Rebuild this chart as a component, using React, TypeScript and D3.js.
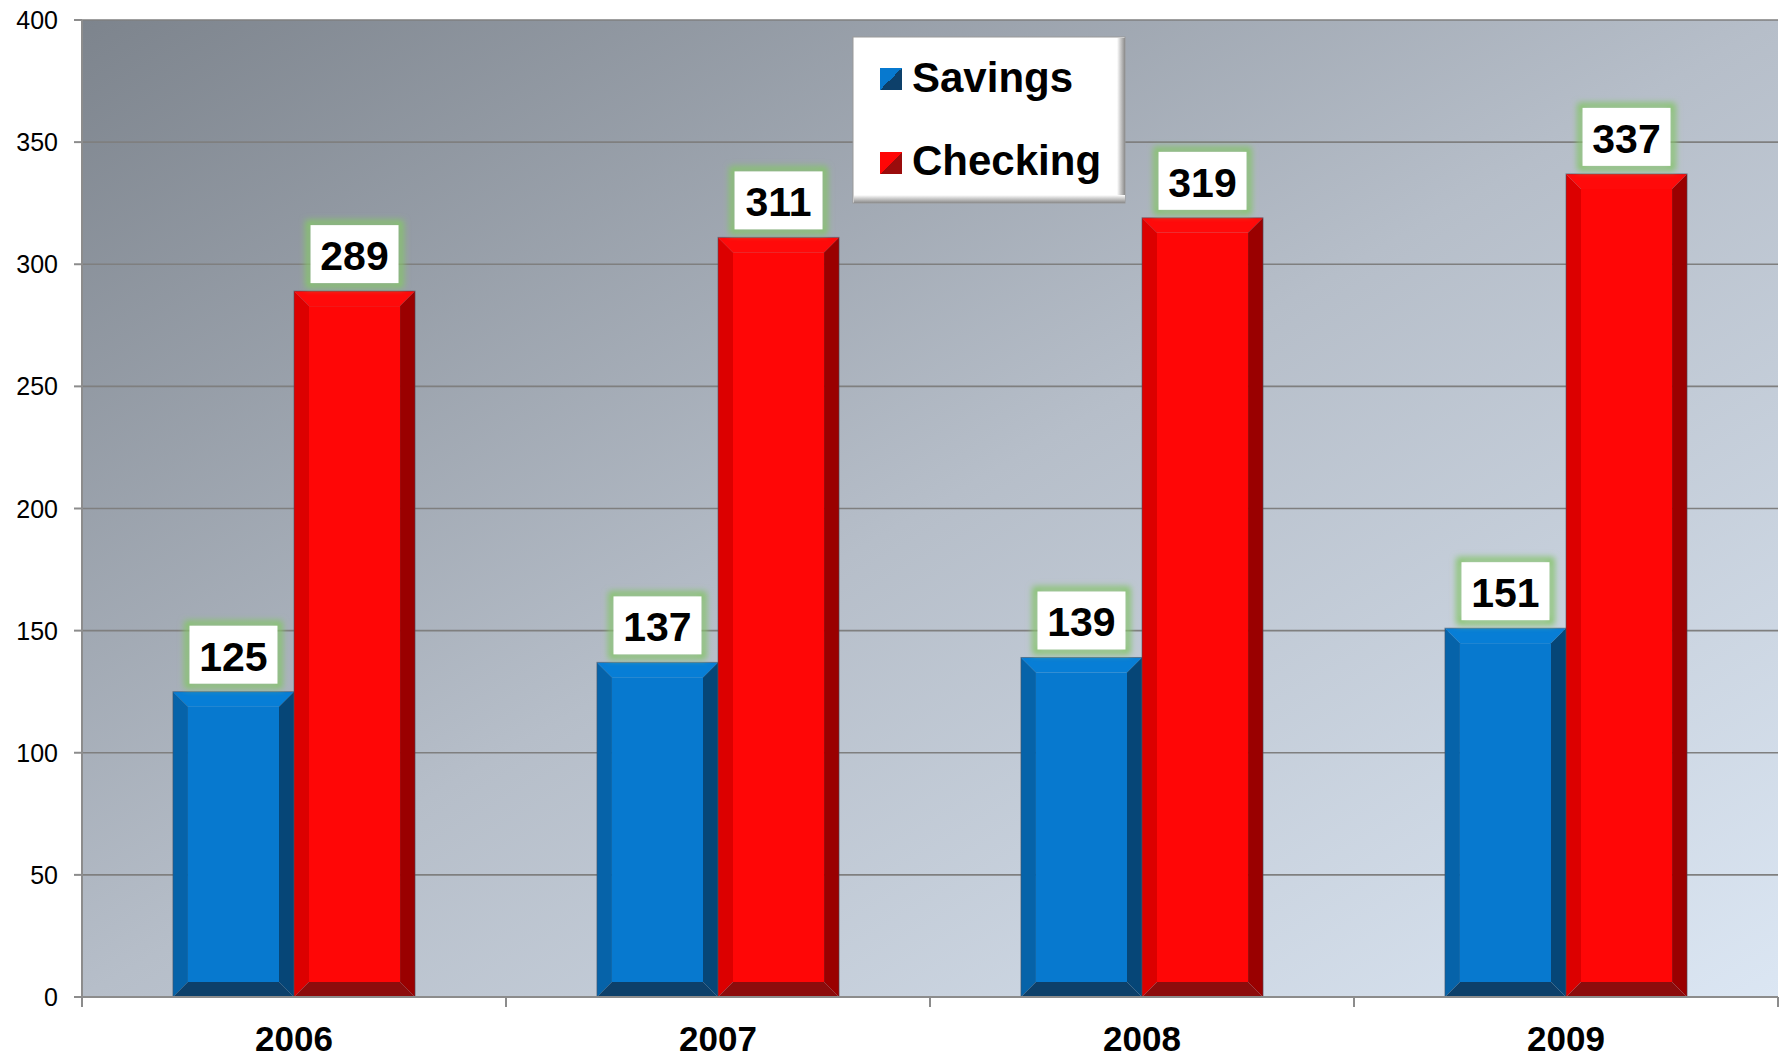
import React from "react";
import * as d3 from "d3";

const categories = ["2006", "2007", "2008", "2009"];
const seriesNames = ["Savings", "Checking"];
const savings = [125, 137, 139, 151];
const checking = [289, 311, 319, 337];
const yTicks = [0, 50, 100, 150, 200, 250, 300, 350, 400];

const W = 1787;
const H = 1060;
const left = 82;
const right = 1778;
const top = 20;
const bottom = 997;
const FONT = "'Liberation Sans', Arial, Helvetica, sans-serif";

const palettes = [
  { face: "#0779cf", topC: "#077ed6", leftC: "#0663a9", rightC: "#064677", bottomC: "#0d406a" },
  { face: "#ff0606", topC: "#ff0a0a", leftC: "#dc0000", rightC: "#9a0000", bottomC: "#8c0c0c" },
];

function BevelBar({ x0, x1, y0, y1, p }: any) {
  const b = Math.min(15, (x1 - x0) / 2, (y1 - y0) / 2);
  const pts = (a: number[][]) => a.map((q) => q.join(",")).join(" ");
  return (
    <g>
      <rect x={x0 + b} y={y0 + b} width={x1 - x0 - 2 * b} height={Math.max(0, y1 - y0 - 2 * b)} fill={p.face} />
      <polygon points={pts([[x0, y0], [x1, y0], [x1 - b, y0 + b], [x0 + b, y0 + b]])} fill={p.topC} />
      <polygon points={pts([[x0, y0], [x0 + b, y0 + b], [x0 + b, y1 - b], [x0, y1]])} fill={p.leftC} />
      <polygon points={pts([[x1, y0], [x1, y1], [x1 - b, y1 - b], [x1 - b, y0 + b]])} fill={p.rightC} />
      <polygon points={pts([[x0, y1], [x1, y1], [x1 - b, y1 - b], [x0 + b, y1 - b]])} fill={p.bottomC} />
      <rect x={x0} y={y0} width={x1 - x0} height={y1 - y0} fill="none" stroke="rgba(70,80,95,0.55)" strokeWidth={1} />
    </g>
  );
}

export default function App() {
  const x = d3.scaleBand<string>().domain(categories).range([left, right]).paddingInner(0.429).paddingOuter(0.2145);
  const xs = d3.scaleBand<string>().domain(seriesNames).range([0, x.bandwidth()]).padding(0);
  const y = d3.scaleLinear().domain([0, 400]).range([bottom, top]);
  const step = x.step();
  const gap = (step - x.bandwidth()) / 2;
  const boundaries = categories.map((c) => (x(c) as number) - gap).concat([right]);
  const data = [savings, checking];

  return (
    <svg width={W} height={H} style={{ position: "absolute", left: 0, top: 0 }} fontFamily={FONT}>
      <defs>
        <linearGradient id="bg" x1="0" y1="0" x2="1" y2="1">
          <stop offset="0" stopColor="#7d848d" />
          <stop offset="0.5" stopColor="#b6bec9" />
          <stop offset="1" stopColor="#dbe6f3" />
        </linearGradient>
        <filter id="glow" x="-30%" y="-30%" width="160%" height="160%">
          <feGaussianBlur stdDeviation="3" />
        </filter>
        <linearGradient id="legR" x1="0" y1="0" x2="1" y2="0">
          <stop offset="0" stopColor="#ffffff" />
          <stop offset="1" stopColor="#8a8a8a" />
        </linearGradient>
        <linearGradient id="legB" x1="0" y1="0" x2="0" y2="1">
          <stop offset="0" stopColor="#ffffff" />
          <stop offset="1" stopColor="#8a8a8a" />
        </linearGradient>
        <linearGradient id="mk0" x1="0" y1="0" x2="1" y2="1">
          <stop offset="0.5" stopColor="#0779cf" />
          <stop offset="0.5" stopColor="#0d406a" />
        </linearGradient>
        <linearGradient id="mk1" x1="0" y1="0" x2="1" y2="1">
          <stop offset="0.5" stopColor="#ff0606" />
          <stop offset="0.5" stopColor="#9a0c0c" />
        </linearGradient>
      </defs>
      <rect width={W} height={H} fill="#ffffff" />
      <rect x={left} y={top} width={right - left} height={bottom - top} fill="url(#bg)" />

      {yTicks.map((t) => (
        <g key={t}>
          {t > 0 && <line x1={left} x2={right} y1={y(t)} y2={y(t)} stroke="#7f7f7f" strokeWidth={1.6} />}
          <line x1={left - 8} x2={left} y1={y(t)} y2={y(t)} stroke="#8c8c8c" strokeWidth={2} />
          <text x={58} y={y(t)} dy="0.36em" textAnchor="end" fontSize={25} fill="#000">{t}</text>
        </g>
      ))}

      {categories.map((c, i) =>
        data.map((vals, s) => {
          const x0 = (x(c) as number) + (xs(seriesNames[s]) as number);
          const x1 = x0 + xs.bandwidth();
          return <BevelBar key={c + s} x0={x0} x1={x1} y0={y(vals[i])} y1={y(0)} p={palettes[s]} />;
        })
      )}

      <line x1={left} x2={left} y1={top} y2={bottom + 10} stroke="#8c8c8c" strokeWidth={2} />
      <line x1={left} x2={right} y1={bottom} y2={bottom} stroke="#8c8c8c" strokeWidth={2} />
      {boundaries.map((bx, i) => (
        <line key={i} x1={bx} x2={bx} y1={bottom} y2={bottom + 10} stroke="#8c8c8c" strokeWidth={2} />
      ))}
      {categories.map((c) => (
        <text key={c} x={(x(c) as number) + x.bandwidth() / 2} y={1051} textAnchor="middle" fontSize={35} fontWeight="bold" fill="#000">{c}</text>
      ))}

      {categories.map((c, i) =>
        data.map((vals, s) => {
          const cx = (x(c) as number) + (xs(seriesNames[s]) as number) + xs.bandwidth() / 2;
          const by = y(vals[i]) - 8;
          const bw = 88;
          const bh = 58;
          return (
            <g key={"l" + c + s}>
              <rect x={cx - bw / 2 - 2} y={by - bh - 2} width={bw + 4} height={bh + 4} fill="none" stroke="#86c46c" strokeWidth={6} filter="url(#glow)" />
              <rect x={cx - bw / 2} y={by - bh} width={bw} height={bh} fill="#ffffff" />
              <text x={cx} y={by - 13} textAnchor="middle" fontSize={41} fontWeight="bold" fill="#000">{vals[i]}</text>
            </g>
          );
        })
      )}

      <g>
        <rect x={853} y={37} width={272} height={166} fill="#ffffff" stroke="#9a9a9a" strokeWidth={1} />
        <rect x={1117} y={38} width={8} height={165} fill="url(#legR)" />
        <rect x={854} y={195} width={271} height={8} fill="url(#legB)" />
        {seriesNames.map((n, i) => (
          <g key={n}>
            <rect x={880} y={68 + i * 84} width={22} height={22} fill={`url(#mk${i})`} />
            <text x={912} y={92 + i * 83} fontSize={42} fontWeight="bold" fill="#000">{n}</text>
          </g>
        ))}
      </g>
    </svg>
  );
}
